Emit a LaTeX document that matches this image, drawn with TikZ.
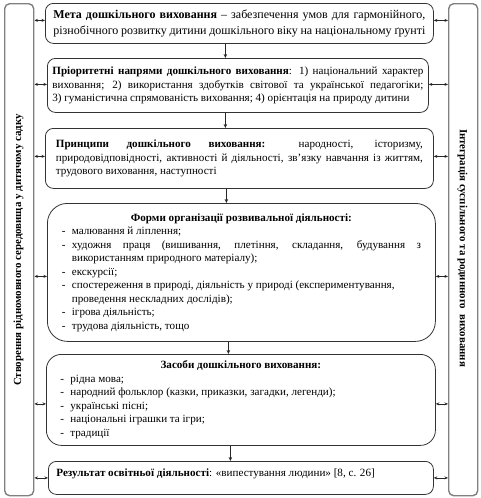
\documentclass[tikz,border=0pt]{standalone}
\usepackage{fontspec}
\setmainfont{Liberation Serif}
\usetikzlibrary{arrows.meta}
\newcommand\dashitem[1]{\par\noindent\hangindent=10pt\hangafter=1\makebox[10pt][l]{-}#1}
\newcommand\boxtitle[1]{\noindent\makebox[\hsize]{\textbf{#1}}}
\tikzset{
  mainbox/.style={draw=black!80, line width=0.8pt, rounded corners=#1, anchor=north west,
    align=justify, font=\fontsize{11.1}{13.5}\selectfont, inner ysep=2pt},
  mainbox/.default=8pt,
  sidebox/.style={draw=black!50, line width=1.4pt, rounded corners=5pt, anchor=north west,
    minimum width=29pt, minimum height=492pt, inner sep=0pt},
  sidetext/.style={font=\fontsize{10.9}{13}\selectfont\bfseries, inner sep=0pt},
  dbl/.style={{Stealth[length=3.5pt,width=3pt]}-{Stealth[length=3.5pt,width=3pt]}, line width=0.6pt, black!85},
  arr/.style={-{Stealth[length=4pt,width=3.5pt]}, line width=0.7pt, black!85}
}
\begin{document}
\begin{tikzpicture}[x=1pt,y=-1pt]
\useasboundingbox (0,0) rectangle (481,498);
% side boxes
\node[sidebox] (L) at (4,3) {};
\node[sidebox] (R) at (448,3) {};
\node[sidetext, rotate=90] (Lt) at (18.5,250) {Створення рідномовного середовища у дитячому садку};
\node[sidetext, rotate=-90] (Rt) at (462.5,248) {Інтеграція суспільного та родинного\ \ виховання};
% main boxes
\node[mainbox, text width=372pt, inner xsep=8pt, minimum height=40pt,
      font=\fontsize{12}{16.5}\selectfont] (b1) at (45,3)
 {\textbf{Мета дошкільного виховання} – забезпечення умов для гармонійного,\linebreak
  різнобічного розвитку дитини дошкільного віку на національному ґрунті};
\node[mainbox, text width=371pt, inner xsep=5pt, minimum height=54pt] (b2) at (47,58)
 {\textbf{Пріоритетні напрями дошкільного виховання}: 1) національний характер\linebreak
  виховання; 2) використання здобутків світової та української педагогіки;\linebreak
  3) гуманістична спрямованість виховання; 4) орієнтація на природу дитини};
\node[mainbox, text width=367pt, inner xsep=10.5pt, minimum height=60pt] (b3) at (45,128)
 {\textbf{Принципи дошкільного виховання:} народності, історизму,\linebreak
  природовідповідності, активності й діяльності, зв’язку навчання із життям,\linebreak
  трудового виховання, наступності};
\node[mainbox=20pt, text width=359pt, inner xsep=14.5pt, minimum height=138pt] (b4) at (47,203)
 {\boxtitle{Форми організації розвивальної діяльності:}
  \dashitem{малювання й ліплення;}
  \dashitem{художня праця (вишивання, плетіння, складання, будування з\linebreak використанням природного матеріалу);}
  \dashitem{екскурсії;}
  \dashitem{спостереження в природі, діяльність у природі (експериментування,\\ проведення нескладних дослідів);}
  \dashitem{ігрова діяльність;}
  \dashitem{трудова діяльність, тощо}};
\node[mainbox=15pt, text width=361pt, inner xsep=14pt, minimum height=91pt] (b5) at (46,354)
 {\boxtitle{Засоби дошкільного виховання:}
  \dashitem{рідна мова;}
  \dashitem{народний фольклор (казки, приказки, загадки, легенди);}
  \dashitem{українські пісні;}
  \dashitem{національні іграшки та ігри;}
  \dashitem{традиції}};
\node[mainbox, text width=369pt, inner xsep=8pt, minimum height=33pt] (b6) at (48,461)
 {\textbf{Результат освітньої діяльності}: «випестування людини» [8, с. 26]\\[-3pt]\mbox{}};
% vertical arrows
\coordinate (a1) at ([xshift=-14pt]b1.south);
\draw[arr] (a1) -- (a1 |- b2.north);
\coordinate (a2) at ([xshift=-12.5pt]b2.south);
\draw[arr] (a2) -- (a2 |- b3.north);
\coordinate (a3) at ([xshift=-13pt]b3.south);
\draw[arr] (a3) -- (a3 |- b4.north);
\coordinate (a4) at ([xshift=-13pt]b4.south);
\draw[arr] (a4) -- (a4 |- b5.north);
\coordinate (a5) at ([xshift=-10.5pt]b5.south);
\draw[arr] (a5) -- (a5 |- b6.north);
% side double arrows
\foreach \b/\s in {b1/3, b2/1, b3/2, b4/-4, b5/-4, b6/0}{
  \coordinate (\b l) at ([yshift=\s pt]\b.west);
  \coordinate (\b r) at ([yshift=\s pt]\b.east);
  \draw[dbl] (L.east |- \b l) -- (\b l);
  \draw[dbl] (\b r) -- (R.west |- \b r);
}
\end{tikzpicture}
\end{document}
